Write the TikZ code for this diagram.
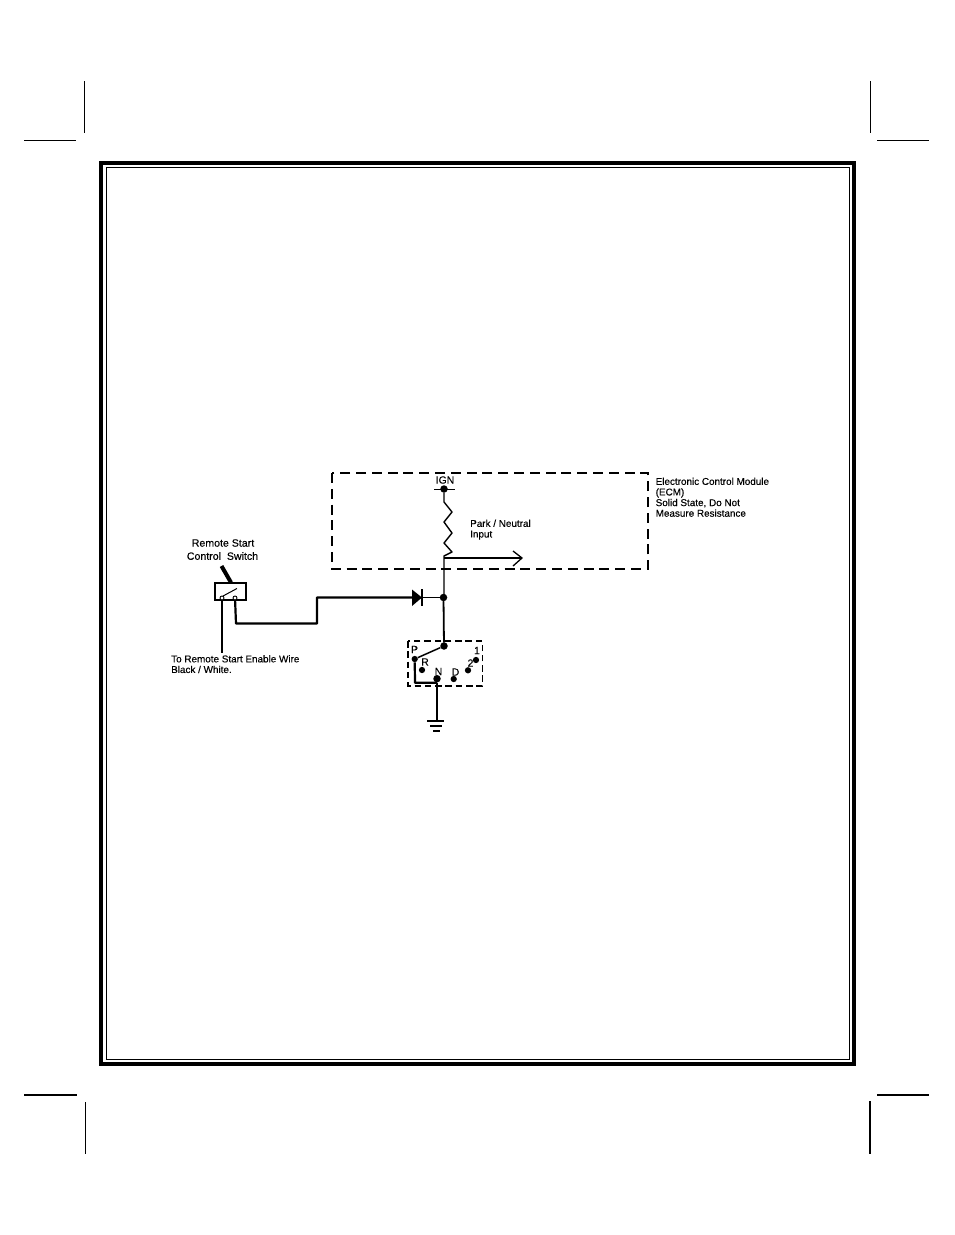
\documentclass[tikz,border=0pt]{standalone}
\usepackage{fontspec}
\setmainfont[FakeBold=0.25]{Liberation Sans}
\usetikzlibrary{arrows.meta}
\tikzset{
  wire/.style={line width=1.8pt,line cap=round,line join=round},
  heavy/.style={line width=2.2pt,line join=round},
  dashbox/.style={line width=1.4pt,dash pattern=on 10pt off 5.8pt},
  lbl/.style={inner sep=0pt,font=\fontsize{9.9}{10.6}\selectfont,align=left,anchor=north west},
  ctr/.style={inner sep=0pt,font=\fontsize{10.4}{11}\selectfont,anchor=center},
  big/.style={inner sep=0pt,font=\fontsize{10.6}{11}\selectfont,anchor=center},
  dot/.style={circle,fill=black,inner sep=0pt,minimum size=7.5pt},
  smalldot/.style={circle,fill=black,inner sep=0pt,minimum size=6.3pt},
  term/.style={circle,draw=black,fill=white,line width=.9pt,inner sep=0pt,minimum size=4pt},
}
\begin{document}
\begin{tikzpicture}[x=1pt,y=-1pt]
\useasboundingbox (0,0) rectangle (954,1235);
% page frame
\draw[line width=3.8pt] (100.9,162.9) rectangle (854.1,1064.1);
\draw[line width=1pt] (106.5,167.5) rectangle (849,1059);
% crop marks
\draw[line width=1pt] (84.5,81) -- (84.5,133);
\draw[line width=1pt] (24,140.5) -- (76,140.5);
\draw[line width=1pt] (870.5,81) -- (870.5,133);
\draw[line width=1pt] (877,140.5) -- (929,140.5);
\draw[line width=1.6pt] (24,1095) -- (77,1095);
\draw[line width=1pt] (85,1102) -- (85,1154);
\draw[line width=2pt] (877,1095) -- (929,1095);
\draw[line width=2pt] (870,1101) -- (870,1154);
% ECM
\draw[dashbox] (332,473) rectangle (648,569);
\node[lbl] (ecmtext) at (655.5,477.5) {Electronic Control Module\\(ECM)\\Solid State, Do Not\\Measure Resistance};
\node[ctr] (ign) at (445,480) {IGN};
\coordinate (ignL) at (434,489);
\coordinate (ignR) at (455,489);
\draw[line width=1pt] (ignL) -- (ignR);
\node[dot] (ignd) at (444,489) {};
\draw[line width=1.4pt,line join=round] (ignd) -- (444,502) -- (452,512) -- (444,522) -- (452,533) -- (444,543) -- (452,552) -- (444,556) -- (444,597);
\node[lbl] (pn) at (470,519.5) {Park / Neutral\\Input};
\coordinate (pnj) at (444,558);
\coordinate (pnend) at (522,558);
\draw[line width=1.3pt] (pnj) -- (pnend);
\draw[line width=1.3pt] (513,551) -- (522,558) -- (513,566);
% switch
\node[big] (rs1) at (223,543) {Remote Start};
\node[big] (rs2) at (222.5,556) {Control\ \ Switch};
\draw[line width=1.2pt] (215,583) rectangle (246,600);
\draw[line width=4pt] (221.5,566) -- (231,582.5);
\node[term] (t1) at (222,598) {};
\node[term] (t2) at (235,598) {};
\draw[line width=1pt] (223,596) -- (237,588.5);
\coordinate (jog1) at (236,623.5);
\coordinate (jog2) at (317,623.5);
\coordinate (jog3) at (317,597.5);
\node[dot] (jn) at (443.5,597.5) {};
\draw[heavy] (t2) -- (jog1) -- (jog2) -- (jog3) -- (412,597.5);
\draw[line width=1.8pt] (t1) -- (222,653);
\node[lbl] (rsw) at (171,655) {To Remote Start Enable Wire\\Black / White.};
% diode
\fill (412,589.5) -- (422,597.5) -- (412,606) -- cycle;
\draw[line width=1.6pt] (422,589) -- (422,606);
\draw[wire] (422,597.5) -- (jn);
% selector
\draw[line width=1.3pt,dash pattern=on 6.5pt off 3.8pt] (408,641) rectangle (482.5,686);
\node[dot] (com) at (444,646) {};
\draw[wire] (jn) -- (com);
\node[smalldot] (p) at (414.7,659) {};
\node[smalldot] (r) at (422,670) {};
\node[dot] (n) at (437,678.7) {};
\node[smalldot] (d) at (453.7,679) {};
\node[smalldot] (two) at (468,670.3) {};
\node[smalldot] (one) at (476,660) {};
\draw[line width=1.5pt] (com) -- (p);
\node[ctr] (pl) at (414.5,649.5) {P};
\node[ctr] (rl) at (425,662) {R};
\node[ctr] (nl) at (438.5,671.5) {N};
\node[ctr] (dl) at (455.5,672) {D};
\node[ctr] (tl) at (470.5,663) {2};
\node[ctr] (ol) at (477,650.5) {1};
\draw[heavy] (p) -- (415,682.7) -- (437,682.7);
\coordinate (gnd) at (437,720);
\draw[line width=2.2pt] (n) -- (gnd);
\draw[line width=1.3pt] (427,721) -- (444,721);
\draw[line width=1.3pt] (430,726) -- (442,726);
\draw[line width=1.6pt] (433,731) -- (440,731);
\end{tikzpicture}
\end{document}
